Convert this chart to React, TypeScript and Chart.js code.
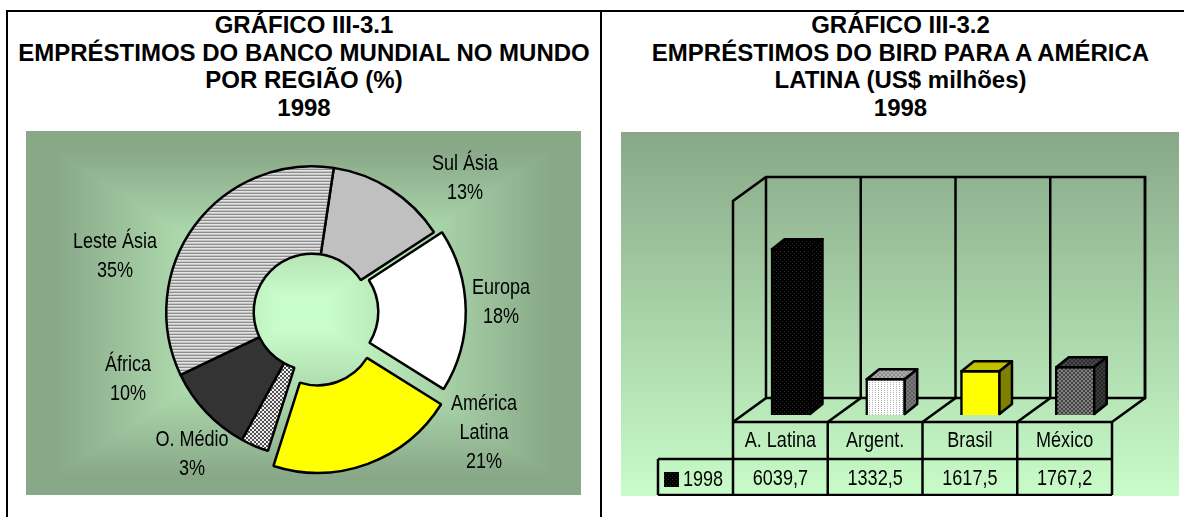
import React, { useEffect, useRef } from "react";
import { Chart, registerables } from "chart.js";

Chart.register(...registerables);

const regions = ["Sul Ásia", "Europa", "América Latina", "O. Médio", "África", "Leste Ásia"];
const regionLines = [["Sul Ásia"], ["Europa"], ["América", "Latina"], ["O. Médio"], ["África"], ["Leste Ásia"]];
const regionShares = [13.4, 18.1, 21, 3.1, 9.9, 34.5];

const countries = ["A. Latina", "Argent.", "Brasil", "México"];
const loans1998 = [6039.7, 1332.5, 1617.5, 1767.2];
const loanLabels = ["6039,7", "1332,5", "1617,5", "1767,2"];
const seriesName = "1998";

const titleLeft = ["GRÁFICO III-3.1", "EMPRÉSTIMOS DO BANCO MUNDIAL NO MUNDO", "POR REGIÃO (%)", "1998"];
const titleRight = ["GRÁFICO III-3.2", "EMPRÉSTIMOS DO BIRD PARA A AMÉRICA", "LATINA (US$ milhões)", "1998"];

const LABEL_FONT = '22px "Liberation Sans", Arial, sans-serif';
const NARROW = 0.82;
const LABEL_LEADING = 29;
const labelOffsets: [number, number][] = [
  [153, -134],
  [189, -10],
  [172, 121],
  [-120, 142],
  [-184, 67],
  [-197, -56],
];
const explodeBy = [0, 8, 16, 0, 0, 0];

function narrowText(ctx: CanvasRenderingContext2D, s: string, x: number, y: number) {
  ctx.save();
  ctx.translate(x, y);
  ctx.scale(NARROW, 1);
  ctx.fillText(s, 0, 0);
  ctx.restore();
}

function pattern(rows: string[][]): CanvasPattern {
  const c = document.createElement("canvas");
  c.height = rows.length;
  c.width = rows[0].length;
  const x = c.getContext("2d")!;
  rows.forEach((r, j) =>
    r.forEach((col, i) => {
      x.fillStyle = col;
      x.fillRect(i, j, 1, 1);
    })
  );
  return x.createPattern(c, "repeat")!;
}

function checker(a: string, b: string) {
  return pattern([[a, a, b, b], [a, a, b, b], [b, b, a, a], [b, b, a, a]]);
}

function mix(a: number[], b: number[], t: number) {
  return `rgb(${a.map((v, i) => Math.round(v + (b[i] - v) * t)).join(",")})`;
}

const EDGE = [136, 168, 136];
const CORE = [200, 252, 200];

const pathBackground = {
  id: "pathBackground",
  beforeDraw(chart: any) {
    const { ctx, width, height } = chart;
    const n = 60;
    ctx.save();
    for (let i = 0; i < n; i++) {
      const t = i / n;
      const k = 1 - t;
      ctx.fillStyle = mix(EDGE, CORE, Math.min(1, Math.max(0, t * 1.25 - 0.12)));
      ctx.fillRect((width - width * k) / 2, (height - height * k) / 2, width * k, height * k);
    }
    ctx.restore();
  },
};

const explodeArcs = {
  id: "explodeArcs",
  afterDatasetsUpdate(chart: any) {
    chart.getDatasetMeta(0).data.forEach((arc: any, i: number) => {
      const mid = (arc.startAngle + arc.endAngle) / 2;
      arc.x += Math.cos(mid) * explodeBy[i];
      arc.y += Math.sin(mid) * explodeBy[i];
    });
  },
};

const pieLabels = {
  id: "pieLabels",
  afterDraw(chart: any) {
    const { ctx } = chart;
    const arc = chart.getDatasetMeta(0).data[0];
    const data = chart.data.datasets[0].data as number[];
    ctx.save();
    ctx.font = LABEL_FONT;
    ctx.fillStyle = "#000";
    ctx.textAlign = "center";
    ctx.textBaseline = "middle";
    regionLines.forEach((lines, i) => {
      const all = [...lines, `${Math.round(data[i])}%`];
      const cx = arc.x + labelOffsets[i][0];
      const cy = arc.y + labelOffsets[i][1];
      all.forEach((s, j) => narrowText(ctx, s, cx, cy + (j - (all.length - 1) / 2) * LABEL_LEADING));
    });
    ctx.restore();
  },
};

const verticalBackground = {
  id: "verticalBackground",
  beforeDraw(chart: any) {
    const { ctx, width, height } = chart;
    const g = ctx.createLinearGradient(0, 0, 0, height);
    g.addColorStop(0, mix(EDGE, EDGE, 0));
    g.addColorStop(1, mix(CORE, CORE, 0));
    ctx.save();
    ctx.fillStyle = g;
    ctx.fillRect(0, 0, width, height);
    ctx.restore();
  },
};

const FRONT_SHIFT = 10.6;
const WALL_DX = 33;
const WALL_DY = 24;
const FLOOR_DROP = 7;
const BAR_DX = 12.5;
const BAR_DY = 10;
const STROKE = 2.5;

function line(ctx: CanvasRenderingContext2D, pts: number[][]) {
  ctx.beginPath();
  pts.forEach(([x, y], i) => (i ? ctx.lineTo(x, y) : ctx.moveTo(x, y)));
  ctx.stroke();
}

function makeFrame3d(sideFills: any[], topFills: any[]) {
  return {
    id: "frame3d",
    beforeDatasetsDraw(chart: any) {
      const { ctx } = chart;
      const xs = chart.scales.x;
      const ys = chart.scales.y;
      const n = countries.length;
      const step = (xs.right - xs.left) / n;
      const fx = (i: number) => xs.left - FRONT_SHIFT + i * step;
      const fb = ys.bottom + FLOOR_DROP;
      const ft = ys.top + FLOOR_DROP;
      ctx.save();
      ctx.strokeStyle = "#000";
      ctx.lineWidth = STROKE;
      line(ctx, [[fx(0), fb], [fx(0), ft], [fx(0) + WALL_DX, ft - WALL_DY], [fx(n) + WALL_DX, ft - WALL_DY], [fx(n) + WALL_DX, fb - WALL_DY], [fx(0) + WALL_DX, fb - WALL_DY]]);
      for (let i = 0; i <= n; i++) {
        line(ctx, [[fx(i) + WALL_DX, ft - WALL_DY], [fx(i) + WALL_DX, fb - WALL_DY], [fx(i), fb]]);
      }
      ctx.restore();
    },
    afterDatasetsDraw(chart: any) {
      const { ctx } = chart;
      const bars = chart.getDatasetMeta(0).data;
      ctx.save();
      ctx.strokeStyle = "#000";
      ctx.lineWidth = STROKE;
      ctx.lineJoin = "round";
      bars.forEach((b: any, i: number) => {
        const { x, y, base, width } = b.getProps(["x", "y", "base", "width"], true);
        const l = x - width / 2 + 1;
        const r = x + width / 2 - 1;
        const t = y + 1;
        const bt = base - 1;
        ctx.fillStyle = topFills[i];
        ctx.beginPath();
        ctx.moveTo(l, t);
        ctx.lineTo(l + BAR_DX, t - BAR_DY);
        ctx.lineTo(r + BAR_DX, t - BAR_DY);
        ctx.lineTo(r, t);
        ctx.closePath();
        ctx.fill();
        ctx.stroke();
        ctx.fillStyle = sideFills[i];
        ctx.beginPath();
        ctx.moveTo(r, t);
        ctx.lineTo(r + BAR_DX, t - BAR_DY);
        ctx.lineTo(r + BAR_DX, bt - BAR_DY);
        ctx.lineTo(r, bt);
        ctx.closePath();
        ctx.fill();
        ctx.stroke();
      });
      ctx.restore();
    },
  };
}

function makeDataTable(swatch: any) {
  return {
    id: "dataTable",
    afterDraw(chart: any) {
      const { ctx, height } = chart;
      const xs = chart.scales.x;
      const ys = chart.scales.y;
      const n = countries.length;
      const step = (xs.right - xs.left) / n;
      const fx = (i: number) => xs.left - FRONT_SHIFT + i * step;
      const row0 = ys.bottom + FLOOR_DROP;
      const row1 = row0 + 37;
      const row2 = height - 1;
      const legendLeft = fx(0) - 75;
      ctx.save();
      ctx.strokeStyle = "#000";
      ctx.lineWidth = STROKE;
      line(ctx, [[fx(0), row0], [fx(n), row0]]);
      line(ctx, [[legendLeft, row1], [fx(n), row1]]);
      line(ctx, [[legendLeft, row2], [fx(n), row2]]);
      line(ctx, [[legendLeft, row1], [legendLeft, row2]]);
      for (let i = 0; i <= n; i++) line(ctx, [[fx(i), row0], [fx(i), row2]]);
      ctx.font = LABEL_FONT;
      ctx.fillStyle = "#000";
      ctx.textAlign = "center";
      ctx.textBaseline = "middle";
      countries.forEach((c, i) => {
        const cx = fx(i) + step / 2;
        narrowText(ctx, c, cx, row0 + 18.5);
        narrowText(ctx, loanLabels[i], cx, row1 + 19.5);
      });
      ctx.fillStyle = swatch;
      ctx.fillRect(legendLeft + 6, row1 + 13, 15, 15);
      ctx.fillStyle = "#000";
      ctx.textAlign = "left";
      narrowText(ctx, seriesName, legendLeft + 25, row1 + 21);
      ctx.restore();
    },
  };
}

function Title({ lines, left, width }: { lines: string[]; left: number; width: number }) {
  return (
    <div
      style={{
        position: "absolute",
        left,
        top: 11,
        width,
        textAlign: "center",
        font: 'bold 24px/27.5px "Liberation Sans", Arial, sans-serif',
        color: "#000",
        whiteSpace: "nowrap",
      }}
    >
      {lines.map((s) => (
        <div key={s}>{s}</div>
      ))}
    </div>
  );
}

export default function App() {
  const pieRef = useRef<HTMLCanvasElement>(null);
  const barRef = useRef<HTMLCanvasElement>(null);

  useEffect(() => {
    const W = "#ffffff";
    const K = "#000000";
    const stripes = pattern([["#e2e2e2"], ["#c4c4c4"], ["#8e8e8e"]]);
    const checks = checker("#f0f0f0", "#505050");
    const pie = new Chart(pieRef.current!, {
      type: "doughnut",
      data: {
        labels: regions,
        datasets: [
          {
            data: regionShares,
            backgroundColor: ["#c0c0c0", "#ffffff", "#ffff00", checks, "#333333", stripes],
            borderColor: "#000",
            borderWidth: 2.5,
          } as any,
        ],
      },
      options: {
        animation: false,
        responsive: false,
        cutout: "40%",
        rotation: 8.6,
        layout: { padding: { left: 17, right: 0, top: 34, bottom: 36 } },
        plugins: { legend: { display: false }, tooltip: { enabled: false } },
      },
      plugins: [pathBackground, explodeArcs, pieLabels],
    });

    const D = "#2a2a2a";
    const dots = pattern([[K, K, K, K], [K, D, K, K], [K, K, K, K], [K, K, K, D]]);
    const white = pattern([[W, W, "#b0b0b0"], [W, W, W]]);
    const grey = checker("#444444", "#808080");
    const greyTop = checker("#b0b0b0", "#8a8a8a");
    const greySide = checker("#606060", "#7c7c7c");
    const darkTop = checker("#303030", "#484848");
    const darkSide = checker("#242424", "#3c3c3c");
    const bar = new Chart(barRef.current!, {
      type: "bar",
      data: {
        labels: countries,
        datasets: [
          {
            label: seriesName,
            data: loans1998,
            backgroundColor: [dots, white, "#ffff00", grey],
            borderColor: "#000",
            borderWidth: 2.5,
            barThickness: 40,
          } as any,
        ],
      },
      options: {
        animation: false,
        responsive: false,
        layout: { padding: { left: 122.6, right: 56.4, top: 62, bottom: 81 } },
        scales: {
          x: { display: false },
          y: { display: false, min: 0, max: 8000 },
        },
        plugins: { legend: { display: false }, tooltip: { enabled: false } },
      },
      plugins: [
        verticalBackground,
        makeFrame3d([dots, greySide, "#808000", darkSide], [dots, greyTop, "#c0c000", darkTop]),
        makeDataTable(dots),
      ],
    });
    return () => {
      pie.destroy();
      bar.destroy();
    };
  }, []);

  const rule = (style: React.CSSProperties) => (
    <div style={{ position: "absolute", background: "#000", ...style }} />
  );

  return (
    <div style={{ position: "fixed", inset: 0, background: "#fff", overflow: "hidden" }}>
      {rule({ left: 6, top: 10, width: 1178, height: 2 })}
      {rule({ left: 6, top: 10, width: 2, height: 507 })}
      {rule({ left: 600, top: 10, width: 2, height: 507 })}
      <Title lines={titleLeft} left={8} width={592} />
      <Title lines={titleRight} left={602} width={597} />
      <canvas ref={pieRef} width={555} height={364} style={{ position: "absolute", left: 26, top: 131, width: 555, height: 364 }} />
      <canvas ref={barRef} width={558} height={364} style={{ position: "absolute", left: 621, top: 132, width: 558, height: 364 }} />
    </div>
  );
}
